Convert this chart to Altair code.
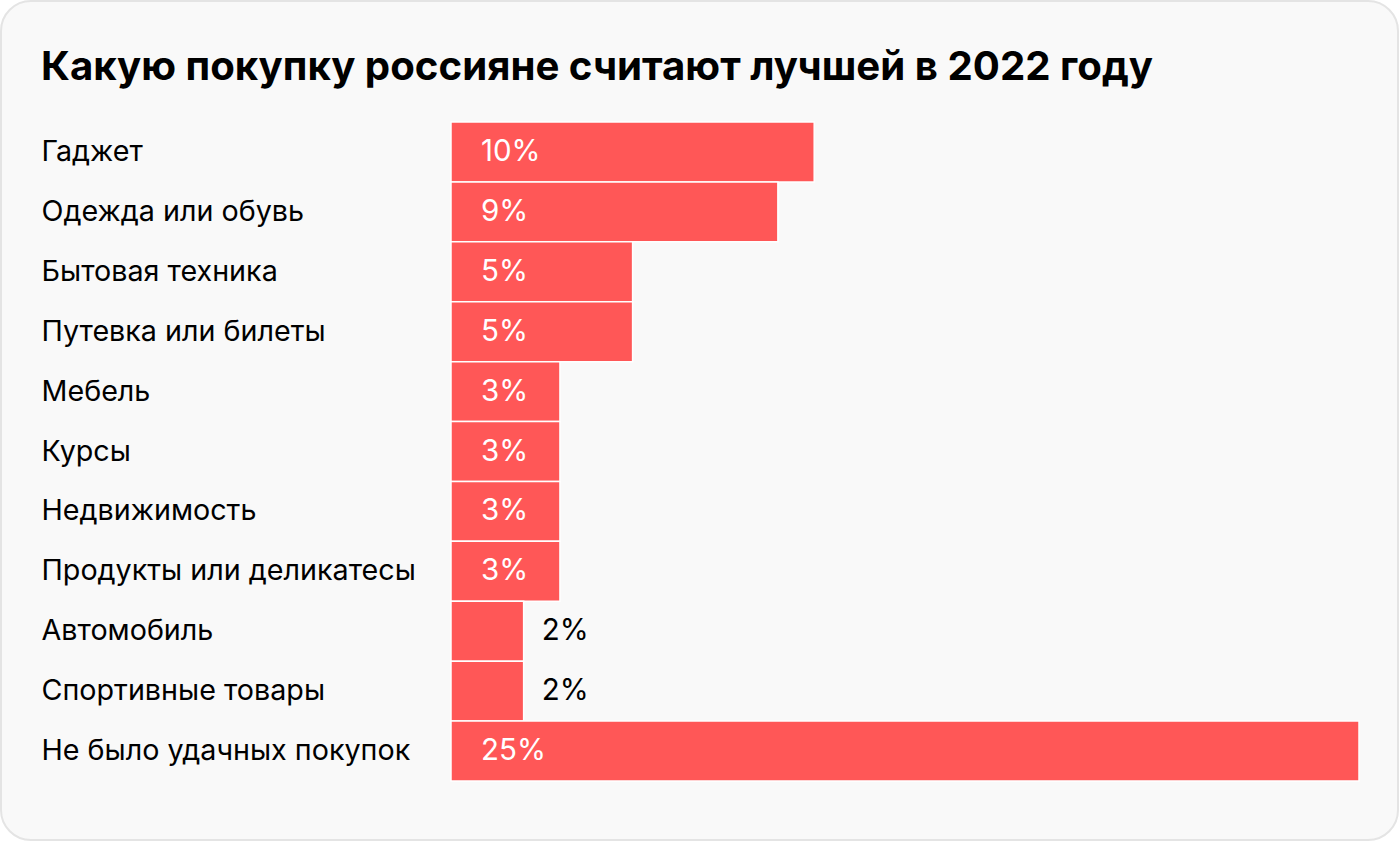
import altair as alt
import pandas as pd

categories = [
    "Гаджет",
    "Одежда или обувь",
    "Бытовая техника",
    "Путевка или билеты",
    "Мебель",
    "Курсы",
    "Недвижимость",
    "Продукты или деликатесы",
    "Автомобиль",
    "Спортивные товары",
    "Не было удачных покупок",
]
values = [10, 9, 5, 5, 3, 3, 3, 3, 2, 2, 25]
labels = [f"{v}%" for v in values]
title_text = "Какую покупку россияне считают лучшей в 2022 году"

df = pd.DataFrame({"cat": categories, "val": values, "label": labels})

FONT = "Inter"
W, H = 908, 659

y_enc = alt.Y(
    "cat:N",
    sort=categories,
    scale=alt.Scale(paddingInner=0, paddingOuter=0),
    axis=alt.Axis(
        title=None,
        labelAlign="left",
        labelPadding=410,
        ticks=False,
        domain=False,
        labelFontSize=28.7,
        labelFont=FONT,
        labelColor="#000000",
        labelLimit=420,
        zindex=1,
    ),
)
x_scale = alt.Scale(domain=[0, 25], nice=False)

background = alt.Chart(pd.DataFrame({"a": [0]})).mark_rect(
    fill="#f9f9f9", stroke="#e4e4e4", strokeWidth=2, cornerRadius=30
).encode(
    x=alt.value(-450), x2=alt.value(947), y=alt.value(-121), y2=alt.value(718)
)

title = alt.Chart(pd.DataFrame({"t": [title_text]})).mark_text(
    align="left", baseline="alphabetic", font=FONT, fontSize=40.2, fontWeight="bold",
    color="#000000",
).encode(x=alt.value(-410), y=alt.value(-42), text="t:N")

bars = alt.Chart(df).mark_bar(color="#ff5757", stroke="#ffffff", strokeWidth=1.5).encode(
    y=y_enc,
    x=alt.X("val:Q", scale=x_scale, axis=None),
)

inside = alt.Chart(df).transform_filter("datum.val >= 3").mark_text(
    align="left", baseline="middle", dx=30, font=FONT, fontSize=29.5, color="#ffffff"
).encode(
    y=alt.Y("cat:N", sort=categories),
    x=alt.datum(0, scale=x_scale),
    text="label:N",
)

outside = alt.Chart(df).transform_filter("datum.val < 3").mark_text(
    align="left", baseline="middle", dx=18, font=FONT, fontSize=29.5, color="#000000"
).encode(
    y=alt.Y("cat:N", sort=categories),
    x=alt.X("val:Q", scale=x_scale),
    text="label:N",
)

chart = alt.layer(background, title, bars, inside, outside).properties(
    width=W,
    height=H,
    autosize=alt.AutoSizeParams(type="none"),
    padding={"left": 451, "top": 122, "right": 41, "bottom": 61},
    background="#ffffff",
).configure_view(stroke=None)

chart.save("out.html", embed_options={"renderer": "svg", "actions": False})
